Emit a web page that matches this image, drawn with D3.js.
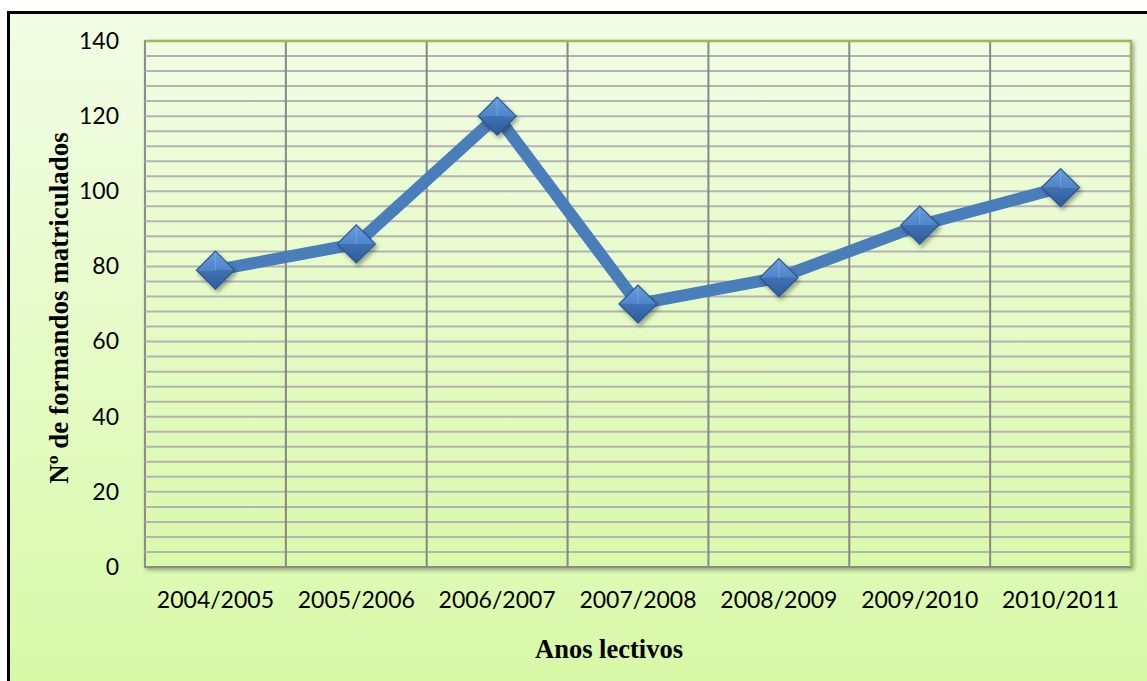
<!DOCTYPE html>
<html>
<head>
<meta charset="utf-8">
<script src="https://cdn.jsdelivr.net/npm/d3@7"></script>
<style>
  html, body { margin: 0; padding: 0; background: #ffffff; }
  svg { display: block; }
</style>
</head>
<body>
<svg id="chart" width="1147" height="681"></svg>
<script>
// Enrolled trainees per school year
const categories = ["2004/2005", "2005/2006", "2006/2007", "2007/2008", "2008/2009", "2009/2010", "2010/2011"];
const values = [79, 86, 120, 70, 77, 91, 101];
const yTicks = [0, 20, 40, 60, 80, 100, 120, 140];
const yTitle = "Nº de formandos matriculados";
const xTitle = "Anos lectivos";

const W = 1147, H = 681;
const plot = { left: 145, right: 1131, top: 41, bottom: 567 };

const svg = d3.select("#chart");
const defs = svg.append("defs");

function vGrad(id, stops) {
  const g = defs.append("linearGradient").attr("id", id)
    .attr("x1", 0).attr("y1", 0).attr("x2", 0).attr("y2", 1);
  stops.forEach(([o, c]) => g.append("stop").attr("offset", o).attr("stop-color", c));
}
vGrad("bgGrad", [[0, "#f2fde5"], [1, "#d8f9a7"]]);
vGrad("plotGrad", [[0, "#f1fde3"], [1, "#d9f9aa"]]);
vGrad("topFacet", [[0, "#6a9fe0"], [1, "#4d84c8"]]);
vGrad("botFacet", [[0, "#3f72b3"], [1, "#2d5c9c"]]);

const shadow = defs.append("filter").attr("id", "shadow")
  .attr("x", "-20%").attr("y", "-20%").attr("width", "150%").attr("height", "150%");
shadow.append("feDropShadow").attr("dx", 2).attr("dy", 3).attr("stdDeviation", 2)
  .attr("flood-color", "#000").attr("flood-opacity", 0.35);

const plotShadow = defs.append("filter").attr("id", "plotShadow")
  .attr("x", "-5%").attr("y", "-5%").attr("width", "110%").attr("height", "110%");
plotShadow.append("feDropShadow").attr("dx", 2).attr("dy", 2).attr("stdDeviation", 2)
  .attr("flood-color", "#000").attr("flood-opacity", 0.35);

// Chart area with black frame on top and left
svg.append("rect").attr("x", 8).attr("y", 12).attr("width", W).attr("height", H)
  .attr("fill", "url(#bgGrad)");
svg.append("line").attr("x1", 8).attr("x2", W).attr("y1", 12.5).attr("y2", 12.5)
  .attr("stroke", "#000").attr("stroke-width", 3);
svg.append("line").attr("x1", 8.5).attr("x2", 8.5).attr("y1", 11).attr("y2", H)
  .attr("stroke", "#000").attr("stroke-width", 3);

// Scales
const x = d3.scaleBand().domain(categories).range([plot.left, plot.right]).padding(0);
const y = d3.scaleLinear().domain([0, 140]).range([plot.bottom, plot.top]);

// Plot area
svg.append("rect")
  .attr("x", plot.left).attr("y", plot.top)
  .attr("width", plot.right - plot.left).attr("height", plot.bottom - plot.top)
  .attr("fill", "url(#plotGrad)")
  .attr("stroke", "#8c8c8c").attr("stroke-width", 2)
  .attr("filter", "url(#plotShadow)");

// Minor horizontal gridlines every 4 units
const minor = d3.range(4, 140, 4);
svg.append("g").selectAll("line").data(minor).join("line")
  .attr("x1", plot.left).attr("x2", plot.right)
  .attr("y1", d => y(d)).attr("y2", d => y(d))
  .attr("stroke", "#b3b3b3").attr("stroke-width", 2);

// Vertical gridlines at category boundaries
svg.append("g").selectAll("line").data(categories.slice(1)).join("line")
  .attr("x1", d => x(d)).attr("x2", d => x(d))
  .attr("y1", plot.top).attr("y2", plot.bottom)
  .attr("stroke", "#878787").attr("stroke-width", 2);

// Green edges on top and right
svg.append("path")
  .attr("d", `M${plot.left},${plot.top}H${plot.right}V${plot.bottom}`)
  .attr("fill", "none").attr("stroke", "#9bbb59").attr("stroke-width", 2.5);

// Y axis labels
const yAxis = d3.axisLeft(y).tickValues(yTicks).tickSize(0).tickPadding(26);
const yg = svg.append("g").attr("transform", `translate(${plot.left},0)`).call(yAxis);
yg.select(".domain").remove();
yg.selectAll("text").attr("font-family", "Lato, 'Open Sans', sans-serif")
  .attr("font-size", 23).attr("fill", "#000");

// X axis labels
const xAxis = d3.axisBottom(x).tickSize(0).tickPadding(25);
const xg = svg.append("g").attr("transform", `translate(0,${plot.bottom})`).call(xAxis);
xg.select(".domain").remove();
xg.selectAll("text").attr("font-family", "Lato, 'Open Sans', sans-serif")
  .attr("font-size", 23).attr("fill", "#000");

// Axis titles
svg.append("text")
  .attr("transform", `translate(68,${308}) rotate(-90)`)
  .attr("text-anchor", "middle")
  .attr("font-family", "'Liberation Serif', 'Times New Roman', serif")
  .attr("font-weight", "bold").attr("font-size", 27).attr("fill", "#000")
  .text(yTitle);
svg.append("text")
  .attr("x", 609).attr("y", 658)
  .attr("text-anchor", "middle")
  .attr("font-family", "'Liberation Serif', 'Times New Roman', serif")
  .attr("font-weight", "bold").attr("font-size", 26.5).attr("fill", "#000")
  .text(xTitle);

// Series line
const cx = d => x(d) + x.bandwidth() / 2;
const line = d3.line().x((d, i) => cx(categories[i])).y(d => y(d));
svg.append("path").datum(values)
  .attr("d", line)
  .attr("fill", "none").attr("stroke", "#4a7ebb").attr("stroke-width", 12)
  .attr("stroke-linejoin", "miter");

// Diamond markers with faceted shading
const r = 19;
const mk = svg.append("g").selectAll("g").data(values).join("g")
  .attr("transform", (d, i) => `translate(${cx(categories[i])},${y(d)})`)
  .attr("filter", "url(#shadow)");
mk.append("path").attr("d", `M${-r},0L0,${-r}L${r},0Z`).attr("fill", "url(#topFacet)");
mk.append("path").attr("d", `M${-r},0L0,${r}L${r},0Z`).attr("fill", "url(#botFacet)");
mk.append("path").attr("d", `M0,${-r}L0,0`).attr("stroke", "#80b0ea").attr("stroke-width", 1).attr("opacity", 0.6);
mk.append("path").attr("d", `M${-r},0L0,${-r}L${r},0L0,${r}Z`)
  .attr("fill", "none").attr("stroke", "#2a568c").attr("stroke-width", 1.2);
</script>
</body>
</html>
